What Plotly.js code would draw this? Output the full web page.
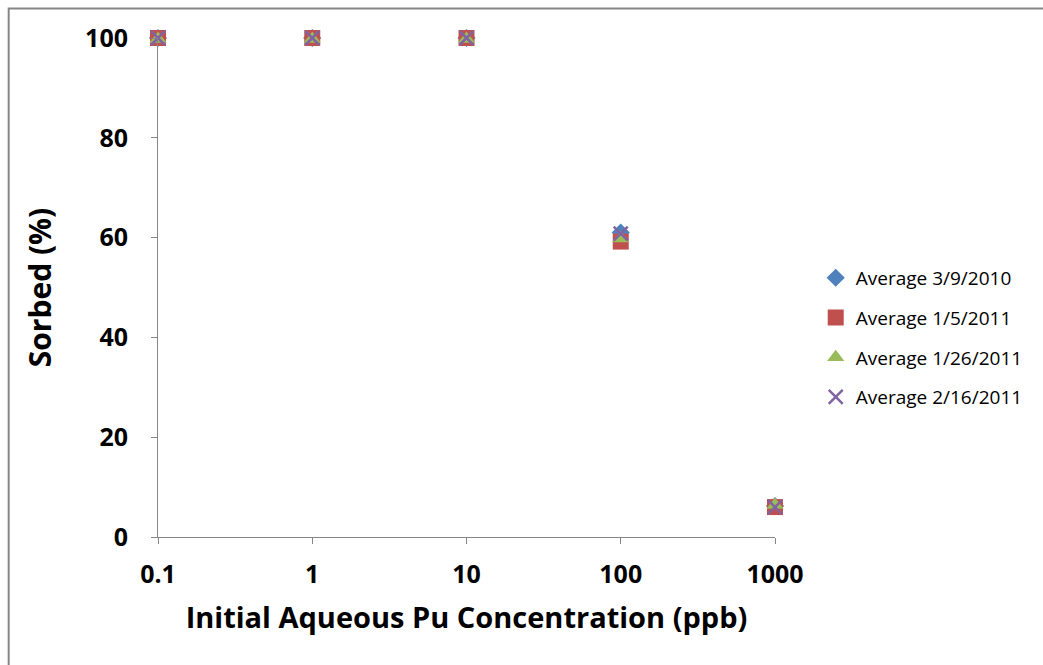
<!DOCTYPE html>
<html>
<head>
<meta charset="utf-8">
<script src="https://cdn.plot.ly/plotly-3.0.1.min.js"></script>
<style>
  html, body { margin: 0; padding: 0; background: #ffffff; }
  #chart { width: 1043px; height: 665px; }
</style>
</head>
<body>
<div id="chart"></div>
<script>
// Initial aqueous Pu concentration (ppb)
const concentrations = [0.1, 1, 10, 100, 1000];

const seriesNames = [
  "Average 3/9/2010",
  "Average 1/5/2011",
  "Average 1/26/2011",
  "Average 2/16/2011"
];

// Sorbed (%)
const avg_2010_03_09 = [100, 100, 100, 61, 6.2];
const avg_2011_01_05 = [100, 100, 100, 59.2, 6];
const avg_2011_01_26 = [99.8, 99.8, 99.8, 59.8, 6.4];
const avg_2011_02_16 = [100, 100, 100, 60.8, 6];

const xTickVals = [0.1, 1, 10, 100, 1000];
const xTickText = ["0.1", "1", "10", "100", "1000"];
const yTickVals = [0, 20, 40, 60, 80, 100];

const seriesValues = [avg_2010_03_09, avg_2011_01_05, avg_2011_01_26, avg_2011_02_16];
const symbols = ["diamond", "square", "triangle-up", "x-thin"];
const colors = ["#4F81BD", "#C0504D", "#9BBB59", "#8064A2"];
const sizes = [14, 16, 15, 14];

const traces = seriesValues.map((vals, i) => ({
  type: "scatter",
  mode: "markers",
  x: concentrations,
  y: vals,
  name: seriesNames[i],
  legendgroup: "g" + i,
  cliponaxis: false,
  marker: {
    symbol: symbols[i],
    color: colors[i],
    size: sizes[i],
    line: symbols[i] === "x-thin" ? {color: colors[i], width: 2.5} : {width: 0}
  }
}));

const axisColor = "#868686";
const tickFont = {family: "Open Sans, Arial, sans-serif", size: 25, color: "#000000", weight: "bold"};

const layout = {
  width: 1043,
  height: 665,
  margin: {l: 158, r: 268, t: 38, b: 128},
  paper_bgcolor: "#ffffff",
  plot_bgcolor: "#ffffff",
  showlegend: true,
  legend: {
    x: 1.066, xanchor: "left",
    y: 0.40, yanchor: "middle",
    font: {family: "Open Sans, Arial, sans-serif", size: 19, color: "#000000"},
    tracegroupgap: 12,
    bgcolor: "rgba(0,0,0,0)"
  },
  xaxis: {
    type: "log",
    range: [-1, 3],
    tickvals: xTickVals,
    ticktext: xTickText,
    showgrid: false,
    zeroline: false,
    showline: true,
    linecolor: axisColor,
    linewidth: 1,
    ticks: "outside",
    ticklen: 6,
    tickcolor: axisColor,
    tickfont: tickFont,
    ticklabelstandoff: 9,
    title: {
      text: "Initial Aqueous Pu Concentration (ppb)",
      font: {family: "Open Sans, Arial, sans-serif", size: 29, color: "#000000", weight: "bold"},
      standoff: 18
    }
  },
  yaxis: {
    range: [0, 100],
    tickvals: yTickVals,
    showgrid: false,
    zeroline: false,
    showline: true,
    linecolor: axisColor,
    linewidth: 1,
    ticks: "outside",
    ticklen: 6,
    tickcolor: axisColor,
    tickfont: tickFont,
    ticklabelstandoff: 18,
    title: {
      text: "Sorbed (%)",
      font: {family: "Open Sans, Arial, sans-serif", size: 30, color: "#000000", weight: "bold"},
      standoff: 24
    }
  },
  shapes: [{
    type: "rect",
    xref: "paper", yref: "paper",
    x0: -0.242, x1: 2.0,
    y0: -2.0, y1: 1.059,
    line: {color: axisColor, width: 2},
    fillcolor: "rgba(0,0,0,0)",
    layer: "below"
  }]
};

Plotly.newPlot("chart", traces, layout, {displayModeBar: false, staticPlot: true});
</script>
</body>
</html>
